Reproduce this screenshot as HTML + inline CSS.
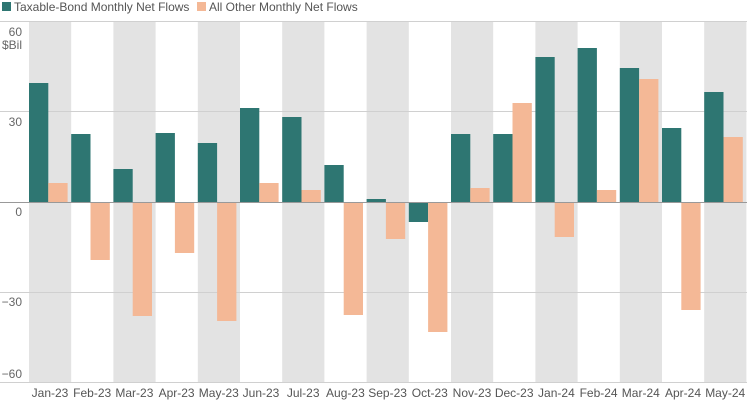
<!DOCTYPE html><html><head><style>body{margin:0;background:#fff}svg{font-family:"Liberation Sans",sans-serif}</style></head><body>
<svg width="750" height="400" xmlns="http://www.w3.org/2000/svg">
<g fill="#e3e3e3">
<rect x="29" y="21" width="42.2" height="362"/><rect x="113.4" y="21" width="42.2" height="362"/><rect x="197.8" y="21" width="42.2" height="362"/><rect x="282.2" y="21" width="42.2" height="362"/><rect x="366.6" y="21" width="42.2" height="362"/><rect x="451" y="21" width="42.2" height="362"/><rect x="535.4" y="21" width="42.2" height="362"/><rect x="619.8" y="21" width="42.2" height="362"/><rect x="704.2" y="21" width="42.2" height="362"/>
</g>
<g stroke="#d0d0d0" stroke-width="1">
<line x1="0" x2="747" y1="21.5" y2="21.5"/><line x1="0" x2="747" y1="111.5" y2="111.5"/><line x1="0" x2="747" y1="292.5" y2="292.5"/><line x1="0" x2="747" y1="382.5" y2="382.5"/>
</g>
<g fill="#2e7672">
<rect x="29" y="83" width="19.3" height="119"/>
<rect x="71.2" y="134" width="19.3" height="68"/>
<rect x="113.4" y="169" width="19.3" height="33"/>
<rect x="155.6" y="133" width="19.3" height="69"/>
<rect x="197.8" y="143" width="19.3" height="59"/>
<rect x="240" y="108" width="19.3" height="94"/>
<rect x="282.2" y="117" width="19.3" height="85"/>
<rect x="324.4" y="165" width="19.3" height="37"/>
<rect x="366.6" y="199" width="19.3" height="3"/>
<rect x="408.8" y="202" width="19.3" height="20"/>
<rect x="451" y="134" width="19.3" height="68"/>
<rect x="493.2" y="134" width="19.3" height="68"/>
<rect x="535.4" y="57" width="19.3" height="145"/>
<rect x="577.6" y="48" width="19.3" height="154"/>
<rect x="619.8" y="68" width="19.3" height="134"/>
<rect x="662" y="128" width="19.3" height="74"/>
<rect x="704.2" y="92" width="19.3" height="110"/>
</g>
<g fill="#f4b896">
<rect x="48.3" y="183" width="19.3" height="19"/>
<rect x="90.5" y="202" width="19.3" height="58"/>
<rect x="132.7" y="202" width="19.3" height="114"/>
<rect x="174.9" y="202" width="19.3" height="51"/>
<rect x="217.1" y="202" width="19.3" height="119"/>
<rect x="259.3" y="183" width="19.3" height="19"/>
<rect x="301.5" y="190" width="19.3" height="12"/>
<rect x="343.7" y="202" width="19.3" height="113"/>
<rect x="385.9" y="202" width="19.3" height="37"/>
<rect x="428.1" y="202" width="19.3" height="130"/>
<rect x="470.3" y="188" width="19.3" height="14"/>
<rect x="512.5" y="103" width="19.3" height="99"/>
<rect x="554.7" y="202" width="19.3" height="35"/>
<rect x="596.9" y="190" width="19.3" height="12"/>
<rect x="639.1" y="79" width="19.3" height="123"/>
<rect x="681.3" y="202" width="19.3" height="108"/>
<rect x="723.5" y="137" width="19.3" height="65"/>
</g>
<line x1="0" x2="747" y1="202.5" y2="202.5" stroke="#999"/>
<g fill="#666" font-size="12" text-anchor="end">
<text x="22" y="36">60</text><text x="22" y="49">$Bil</text><text x="22" y="126">30</text><text x="22" y="216">0</text><text x="22" y="306">−30</text><text x="22" y="378">−60</text>
</g>
<g fill="#555" font-size="12" text-anchor="middle">
<text x="50" y="397">Jan-23</text><text x="92.2" y="397">Feb-23</text><text x="134.4" y="397">Mar-23</text><text x="176.6" y="397">Apr-23</text><text x="218.8" y="397">May-23</text><text x="261" y="397">Jun-23</text><text x="303.2" y="397">Jul-23</text><text x="345.4" y="397">Aug-23</text><text x="387.6" y="397">Sep-23</text><text x="429.8" y="397">Oct-23</text><text x="472" y="397">Nov-23</text><text x="514.2" y="397">Dec-23</text><text x="556.4" y="397">Jan-24</text><text x="598.6" y="397">Feb-24</text><text x="640.8" y="397">Mar-24</text><text x="683" y="397">Apr-24</text><text x="725.2" y="397">May-24</text>
</g>
<rect x="2" y="2" width="9" height="9" fill="#2e7672"/><text x="14" y="11" font-size="12" fill="#555">Taxable-Bond Monthly Net Flows</text>
<rect x="197" y="2" width="9" height="9" fill="#f4b896"/><text x="209" y="11" font-size="12" fill="#555">All Other Monthly Net Flows</text>
</svg></body></html>
